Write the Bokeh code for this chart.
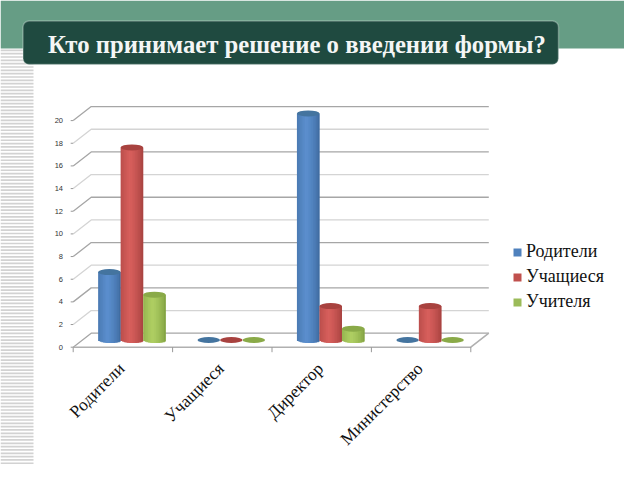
from bokeh.plotting import figure
from bokeh.models import BoxAnnotation, Legend, LegendItem, Range1d
from bokeh.core.properties import value
from bokeh.embed import file_html
from bokeh.resources import INLINE
import math

categories = ["Родители", "Учащиеся", "Директор", "Министерство"]
series_names = ["Родители", "Учащиеся", "Учителя"]
parents = [6, 0, 20, 0]
students = [17, 0, 3, 3]
teachers = [4, 0, 1, 0]
y_ticks = [0, 2, 4, 6, 8, 10, 12, 14, 16, 18, 20]
title_text = "Кто принимает решение о введении формы?"

W, H = 624, 464
X0, XW = 72.7, 99.4
Y0, YH = 346.7, 11.33
def fx(px): return (px - X0) / XW
def fy(py): return (Y0 - py) / YH

p = figure(width=W, height=H, output_backend="svg", toolbar_location=None,
           x_range=Range1d(fx(0), fx(W)), y_range=Range1d(fy(H), fy(0)),
           min_border=0)
p.axis.visible = False
p.grid.visible = False
p.outline_line_color = None
p.background_fill_color = "white"
p.border_fill_color = "white"

# slide chrome
p.quad(left=[fx(0)], right=[fx(W)], top=[fy(0)], bottom=[fy(48)], fill_color="#669d85", line_color=None)
st, sb = [], []
sy = 49.0
while sy < H:
    st.append(fy(sy)); sb.append(fy(sy + 1.7)); sy += 3.33
p.quad(left=fx(0), right=fx(33), top=st, bottom=sb, fill_color="#d2d2d2", line_color=None)
p.add_layout(BoxAnnotation(left=fx(22.5), right=fx(558), top=fy(20.5), bottom=fy(64),
                           fill_color="#1f4a40", fill_alpha=1, line_color="#f2f8f5", line_width=1.5,
                           border_radius=6))
p.text(x=[fx(296.5)], y=[fy(44)], text=[title_text], text_color="#f4f6f5",
       text_font=value("Liberation Serif"), text_font_style="bold", text_font_size="24.7px",
       text_align="center", text_baseline="alphabetic", level="overlay")

# 3-D walls
DX, DY = 18 / XW, 14 / YH
n = len(categories)
for i, t in enumerate(y_ticks):
    c = "#a6a6a6" if i % 2 == 0 else "#d4d4d4"
    p.line([0, DX, n + DX], [t, t + DY, t + DY], line_color=c, line_width=1.3)
    p.line([fx(X0 - 2.5), 0], [t, t], line_color="#999999", line_width=1)
p.text(x=[fx(62.5)] * len(y_ticks), y=y_ticks, text=[str(t) for t in y_ticks],
       text_font=value("Liberation Sans"), text_font_size="7.5px", text_color="#333333",
       text_align="right", text_baseline="middle")
p.line([0, n, n + DX], [0, 0, DY], line_color="#b0b0b0", line_width=1.6)
for k in range(n + 1):
    p.line([k, k], [0, fy(Y0 + 5)], line_color="#999999", line_width=1)

# cylinders
palette = {
    0: ((58, 101, 152), (92, 144, 207), "#44749f"),
    1: ((160, 62, 60), (216, 96, 93), "#a8423f"),
    2: ((124, 156, 62), (176, 208, 100), "#8aaa48"),
}
BW = 0.2265
EH = 6.0 / YH
BASE = 7.2 / YH
STRIPS = 14
for s, vals in enumerate([parents, students, teachers]):
    edge, mid, top_col = palette[s]
    for c, v in enumerate(vals):
        cx = c + 0.5 + DX / 2 + (s - 1) * BW
        if v > 0:
            for j in range(STRIPS):
                a = j / STRIPS
                tt = a + 0.5 / STRIPS
                w = (1 - abs(tt - 0.42) / 0.58) ** 0.6
                col = "#%02x%02x%02x" % tuple(int(e + (m - e) * w) for e, m in zip(edge, mid))
                off = 2 * tt - 1
                bot = BASE - EH / 2 * math.sqrt(max(0, 1 - off * off))
                right = min(a + 2.5 / STRIPS, 1.0)
                p.quad(left=[cx - BW / 2 + a * BW], right=[cx - BW / 2 + right * BW],
                       bottom=[bot], top=[v + BASE], fill_color=col, line_color=None)
        p.ellipse(x=[cx], y=[v + BASE], width=BW, height=EH, fill_color=top_col, line_color=None)

# category labels
for c, name in enumerate(categories):
    p.text(x=[c + 0.5 + fx(X0 - 1.5)], y=[fy(365)], text=[name], angle=math.radians(45),
           text_font=value("Liberation Serif"), text_font_size="17.5px", text_color="#111111",
           text_align="right", text_baseline="middle")

# legend
leg_r = []
for col in ["#4f81bd", "#c0504d", "#9bbb59"]:
    leg_r.append(p.quad(left=[-50], right=[-49], top=[-50], bottom=[-51], fill_color=col, line_color=None))
leg = Legend(items=[LegendItem(label=nm, renderers=[r]) for nm, r in zip(series_names, leg_r)],
             location=(512, H - 312), orientation="vertical",
             background_fill_alpha=0, border_line_color=None,
             glyph_width=10, glyph_height=10, label_standoff=4, spacing=4, padding=8,
             label_text_font="Liberation Serif", label_text_font_size="18px", label_text_color="#111111",
             label_height=21)
p.add_layout(leg)

open("out.html", "w").write(file_html(p, INLINE))
